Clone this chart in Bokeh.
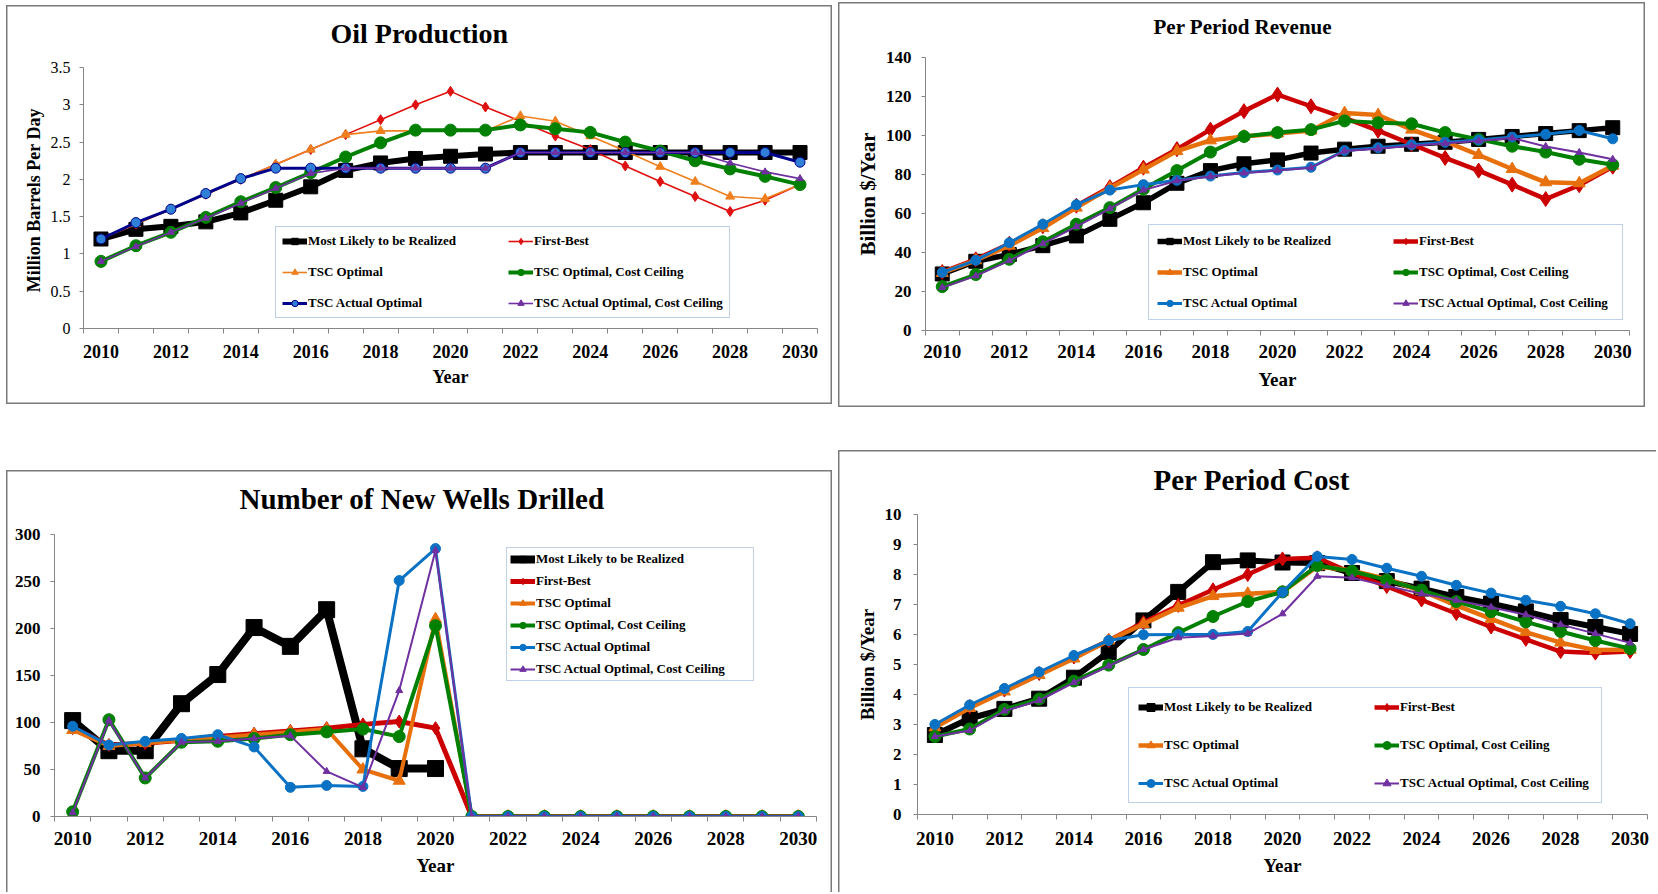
from bokeh.plotting import figure
from bokeh.models import (Range1d, FixedTicker, Legend, LegendItem, Title,
                          ColumnDataSource, CustomJSTickFormatter, Spacer)
from bokeh.layouts import row, column
from bokeh.embed import file_html
from bokeh.resources import INLINE

# ---------------- data ----------------
years = list(range(2010, 2031))
year_ticks = list(range(2010, 2031, 2))
names = ["Most Likely to be Realized", "First-Best", "TSC Optimal",
         "TSC Optimal, Cost Ceiling", "TSC Actual Optimal",
         "TSC Actual Optimal, Cost Ceiling"]

oil_ml = [1.20, 1.33, 1.37, 1.43, 1.55, 1.72, 1.90, 2.12, 2.22, 2.28, 2.31, 2.34, 2.36, 2.36, 2.36, 2.36, 2.36, 2.36, 2.36, 2.36, 2.36]
oil_fb = [1.20, 1.40, 1.60, 1.80, 2.00, 2.20, 2.40, 2.60, 2.80, 3.00, 3.18, 2.97, 2.78, 2.58, 2.40, 2.18, 1.97, 1.77, 1.57, 1.72, 1.93]
oil_tsco = [1.20, 1.40, 1.60, 1.80, 2.00, 2.20, 2.40, 2.60, 2.65, 2.65, 2.65, 2.65, 2.85, 2.78, 2.58, 2.38, 2.17, 1.97, 1.77, 1.74, 1.93]
oil_tscocc = [0.90, 1.11, 1.29, 1.49, 1.70, 1.89, 2.09, 2.30, 2.49, 2.66, 2.66, 2.66, 2.73, 2.68, 2.63, 2.50, 2.38, 2.25, 2.14, 2.04, 1.93]
oil_tscao = [1.20, 1.42, 1.60, 1.81, 2.01, 2.15, 2.15, 2.15, 2.15, 2.15, 2.15, 2.15, 2.36, 2.36, 2.36, 2.36, 2.36, 2.36, 2.36, 2.36, 2.23]
oil_tscaocc = [0.90, 1.10, 1.29, 1.48, 1.68, 1.88, 2.08, 2.15, 2.15, 2.15, 2.15, 2.15, 2.36, 2.36, 2.36, 2.36, 2.36, 2.36, 2.22, 2.10, 2.01]

rev_ml = [29.0, 35.5, 39.0, 43.5, 48.5, 57.0, 65.5, 75.5, 82.0, 85.5, 87.5, 91.0, 93.0, 94.5, 95.5, 96.5, 98.0, 99.5, 101.0, 102.5, 104.0]
rev_fb = [30.0, 36.5, 44.5, 53.5, 64.0, 73.5, 83.5, 93.0, 103.0, 112.5, 121.0, 115.0, 109.0, 102.5, 95.5, 88.5, 82.0, 74.8, 67.4, 74.5, 84.0]
rev_tsco = [29.5, 36.0, 43.5, 52.5, 63.0, 73.0, 82.5, 92.0, 97.5, 99.5, 101.0, 102.5, 111.5, 110.5, 103.0, 97.0, 90.0, 82.8, 76.0, 75.5, 84.5]
rev_tscocc = [22.5, 28.7, 36.5, 45.5, 54.5, 63.0, 72.5, 82.0, 91.5, 99.5, 101.5, 103.0, 107.5, 106.5, 106.0, 101.5, 98.0, 94.5, 91.5, 87.8, 85.0]
rev_tscao = [29.8, 36.0, 45.0, 54.5, 64.5, 72.0, 74.8, 77.0, 79.2, 81.0, 82.3, 83.7, 92.3, 93.7, 95.2, 96.5, 97.7, 99.2, 100.6, 102.6, 98.3]
rev_tscaocc = [22.0, 28.0, 35.8, 44.5, 53.3, 62.5, 72.0, 76.8, 79.0, 80.8, 82.0, 83.5, 92.0, 93.2, 94.7, 96.0, 97.2, 98.7, 94.4, 91.3, 87.8]

wells_ml = [102, 70, 70, 120, 151, 201, 181, 220, 72, 51, 51, None, None, None, None, None, None, None, None, None, None]
wells_fb = [94, 76, 78, 81, 85, 88, 91, 94, 98, 101, 94, 0, 0, 0, 0, 0, 0, 0, 0, 0, 0]
wells_tsco = [92, 75, 78, 81, 84, 87, 90, 93, 50, 38, 210, 0, 0, 0, 0, 0, 0, 0, 0, 0, 0]
wells_tscocc = [5, 103, 41, 79, 80, 83, 87, 90, 93, 85, 203, 0, 0, 0, 0, 0, 0, 0, 0, 0, 0]
wells_tscao = [96, 76, 80, 83, 87, 74, 31, 33, 32, 251, 285, 0, 0, 0, 0, 0, 0, 0, 0, 0, 0]
wells_tscaocc = [4, 102, 41, 79, 80, 83, 86, 48, 31, 134, 283, 0, 0, 0, 0, 0, 0, 0, 0, 0, 0]

cost_ml = [2.65, 3.20, 3.52, 3.86, 4.56, 5.42, 6.47, 7.42, 8.41, 8.47, 8.40, 8.38, 8.05, 7.78, 7.53, 7.25, 7.03, 6.77, 6.48, 6.25, 6.02]
cost_fb = [2.95, 3.60, 4.15, 4.70, 5.25, 5.80, 6.40, 6.97, 7.49, 8.00, 8.52, 8.56, 8.05, 7.60, 7.15, 6.70, 6.25, 5.84, 5.43, 5.38, 5.43]
cost_tsco = [2.90, 3.55, 4.10, 4.65, 5.20, 5.80, 6.35, 6.89, 7.28, 7.36, 7.42, 8.27, 8.13, 7.85, 7.45, 6.97, 6.52, 6.08, 5.73, 5.48, 5.49]
cost_tscocc = [2.60, 2.85, 3.50, 3.85, 4.45, 4.98, 5.50, 6.06, 6.60, 7.10, 7.42, 8.30, 8.11, 7.82, 7.48, 7.10, 6.76, 6.42, 6.10, 5.80, 5.53]
cost_tscao = [3.00, 3.65, 4.20, 4.75, 5.30, 5.80, 5.99, 6.00, 6.00, 6.10, 7.41, 8.60, 8.50, 8.21, 7.94, 7.64, 7.38, 7.14, 6.94, 6.69, 6.36]
cost_tscaocc = [2.60, 2.80, 3.45, 3.80, 4.40, 4.95, 5.50, 5.89, 5.95, 6.03, 6.69, 7.94, 7.89, 7.62, 7.36, 7.14, 6.91, 6.66, 6.33, 6.03, 5.72]

oil_ticks = [0, 0.5, 1, 1.5, 2, 2.5, 3, 3.5]
rev_ticks = [0, 20, 40, 60, 80, 100, 120, 140]
wells_ticks = [0, 50, 100, 150, 200, 250, 300]
cost_ticks = [0, 1, 2, 3, 4, 5, 6, 7, 8, 9, 10]

# ---------------- styling ----------------
FONT = "Liberation Serif"
AX = "#868686"
RED = "#cc0000"
ORANGE = "#e8700c"
GREEN = "#008000"
BLUE = "#0a72c4"
PURPLE = "#7030a0"
NAVY = "#00008a"

def st(c, lw, m, s, fc=None, lc=None):
    return dict(c=c, lw=lw, m=m, s=s, fc=fc or c, lc=lc or c)

oil_styles = [st("black", 6, "square", 14), st("#e01010", 1.6, "diamond", 10),
              st("#f0801e", 1.6, "triangle", 9), st(GREEN, 4, "circle", 12),
              st(NAVY, 3, "circle", 10, fc="#2f7fd6", lc=NAVY), st(PURPLE, 1.6, "triangle", 7)]
rev_styles = [st("black", 5.5, "square", 14), st(RED, 4.5, "diamond", 15),
              st(ORANGE, 4.5, "triangle", 12), st(GREEN, 4, "circle", 12),
              st(BLUE, 3, "circle", 10), st(PURPLE, 2, "triangle", 7)]
wells_styles = [st("black", 8, "square", 16), st(RED, 5, "diamond", 13),
                st(ORANGE, 4, "triangle", 12), st(GREEN, 4, "circle", 12),
                st(BLUE, 3, "circle", 10), st(PURPLE, 2, "triangle", 7)]
cost_styles = [st("black", 6, "square", 15), st(RED, 4.5, "diamond", 14),
               st(ORANGE, 4.5, "triangle", 12), st(GREEN, 4, "circle", 12),
               st(BLUE, 3, "circle", 10), st(PURPLE, 2, "triangle", 7)]


def make_fig(w, h, mbl, mbr, mbt, mbb, ymax, yticks, shadow):
    p = figure(width=w, height=h, x_range=Range1d(2009.5, 2030.5),
               y_range=Range1d(0, ymax), output_backend="svg",
               toolbar_location=None, min_border_left=mbl, min_border_right=mbr,
               min_border_top=mbt, min_border_bottom=mbb)
    p.frame_align = False
    p.grid.visible = False
    p.outline_line_color = None
    p.background_fill_color = None
    p.border_fill_color = None
    p.styles = {"box-shadow": shadow}
    xa = p.xaxis[0]
    xa.ticker = FixedTicker(ticks=year_ticks, minor_ticks=[y - 0.5 for y in years] + [years[-1] + 0.5])
    xa.major_tick_out = 0
    xa.major_tick_in = 0
    xa.minor_tick_out = 5
    xa.minor_tick_in = 0
    ya = p.yaxis[0]
    ya.ticker = FixedTicker(ticks=yticks)
    ya.formatter = CustomJSTickFormatter(code="return tick.toString()")
    ya.major_tick_out = 4
    ya.major_tick_in = 0
    ya.minor_tick_out = 0
    ya.minor_tick_in = 0
    for a in (xa, ya):
        a.axis_line_color = AX
        a.major_tick_line_color = AX
        a.minor_tick_line_color = AX
        a.major_label_text_font = FONT
        a.major_label_text_color = "black"
        a.axis_label_text_font = FONT
        a.axis_label_text_font_style = "bold"
        a.axis_label_text_color = "black"
    return p


def set_title(p, text, size, offset, standoff, gap):
    t = p.title
    t.text = text
    t.align = "left"
    t.offset = offset
    t.standoff = standoff
    t.text_font = FONT
    t.text_font_style = "bold"
    t.text_font_size = size
    t.text_color = "black"
    # thin blank title used as a gap between the title and the plot frame
    p.add_layout(Title(text=" ", text_font_size="1px", standoff=gap), "above")


def add_series(p, data, styles):
    items = []
    for ys, s, name in zip(data, styles, names):
        yv = [float("nan") if v is None else v for v in ys]
        src = ColumnDataSource(dict(x=years, y=yv))
        l = p.line("x", "y", source=src, line_color=s["c"], line_width=s["lw"],
                   line_join="round")
        m = p.scatter("x", "y", source=src, marker=s["m"], size=s["s"],
                      fill_color=s["fc"], line_color=s["lc"], line_width=1)
        items.append(LegendItem(label=name, renderers=[l, m]))
    return items


def add_legend(p, items, loc, ncols, pad, spacing, lw, lh):
    if ncols == 2:
        items = [items[i] for i in (0, 2, 4, 1, 3, 5)]
    lg = Legend(items=items, location=loc, ncols=ncols, orientation="vertical",
                padding=pad, spacing=spacing, margin=0, glyph_width=25,
                glyph_height=lh, label_standoff=1, label_width=lw, label_height=lh,
                border_line_color="#7fa3d0", border_line_width=1.3,
                background_fill_color="white", background_fill_alpha=1,
                label_text_font=FONT, label_text_font_style="bold",
                label_text_font_size="13px", label_text_color="black")
    p.add_layout(lg)

BOX = "inset 0 0 0 1.5px #7a7a7a"

# ---------------- Oil Production ----------------
p1 = make_fig(826, 399, 77, 15, 62, 76, 3.5, oil_ticks, BOX)
set_title(p1, "Oil Production", "28px", 247, 20, 5.5)
p1.xaxis.major_label_text_font_size = "18px"
p1.xaxis.major_label_text_font_style = "bold"
p1.xaxis.major_label_standoff = 11
p1.xaxis.axis_label = "Year"
p1.xaxis.axis_label_text_font_size = "18px"
p1.xaxis.axis_label_standoff = 6
p1.yaxis.major_label_text_font_size = "16px"
p1.yaxis.major_label_standoff = 9
p1.yaxis.axis_label = "Million  Barrels Per Day"
p1.yaxis.axis_label_text_font_size = "18px"
p1.yaxis.axis_label_standoff = 4
it = add_series(p1, [oil_ml, oil_fb, oil_tsco, oil_tscocc, oil_tscao, oil_tscaocc], oil_styles)
add_legend(p1, it, (192, 10), 2, 6, 15, 185, 16)

# ---------------- Per Period Revenue ----------------
p2 = make_fig(807, 405, 87, 16, 55, 77, 140, rev_ticks, BOX)
set_title(p2, "Per Period Revenue", "21px", 228, 21, 5)
p2.xaxis.major_label_text_font_size = "19px"
p2.xaxis.major_label_text_font_style = "bold"
p2.xaxis.major_label_standoff = 9
p2.xaxis.axis_label = "Year"
p2.xaxis.axis_label_text_font_size = "19px"
p2.xaxis.axis_label_standoff = 8
p2.yaxis.major_label_text_font_size = "17px"
p2.yaxis.major_label_text_font_style = "bold"
p2.yaxis.major_label_standoff = 10
p2.yaxis.axis_label = "Billion $/Year"
p2.yaxis.axis_label_text_font_size = "21px"
p2.yaxis.axis_label_standoff = 3
it = add_series(p2, [rev_ml, rev_fb, rev_tsco, rev_tscocc, rev_tscao, rev_tscaocc], rev_styles)
add_legend(p2, it, (223, 10), 2, 8, 15, 195, 16)

# ---------------- Number of New Wells Drilled ----------------
p3 = make_fig(826, 422, 48, 16, 64, 76, 300, wells_ticks,
              "inset 1.5px 1.5px 0 0 #7a7a7a, inset -1.5px 0 0 0 #7a7a7a")
set_title(p3, "Number of New Wells Drilled", "29px", 185, 20, 6.5)
p3.xaxis.major_label_text_font_size = "19px"
p3.xaxis.major_label_text_font_style = "bold"
p3.xaxis.major_label_standoff = 10
p3.xaxis.axis_label = "Year"
p3.xaxis.axis_label_text_font_size = "19px"
p3.xaxis.axis_label_standoff = 7
p3.yaxis.major_label_text_font_size = "17px"
p3.yaxis.major_label_text_font_style = "bold"
p3.yaxis.major_label_standoff = 10
it = add_series(p3, [wells_ml, wells_fb, wells_tsco, wells_tscocc, wells_tscao, wells_tscaocc], wells_styles)
add_legend(p3, it, (452, 135), 1, 3, 6, 214, 16)

# ---------------- Per Period Cost ----------------
p4 = make_fig(818, 442, 79, 9, 64, 78, 10, cost_ticks, "inset 1.5px 1.5px 0 0 #7a7a7a")
set_title(p4, "Per Period Cost", "29px", 236, 22, 4.5)
p4.xaxis.major_label_text_font_size = "19px"
p4.xaxis.major_label_text_font_style = "bold"
p4.xaxis.major_label_standoff = 12
p4.xaxis.axis_label = "Year"
p4.xaxis.axis_label_text_font_size = "19px"
p4.xaxis.axis_label_standoff = 7
p4.yaxis.major_label_text_font_size = "17px"
p4.yaxis.major_label_text_font_style = "bold"
p4.yaxis.major_label_standoff = 12
p4.yaxis.axis_label = "Billion $/Year"
p4.yaxis.axis_label_text_font_size = "19px"
p4.yaxis.axis_label_standoff = 4
it = add_series(p4, [cost_ml, cost_fb, cost_tsco, cost_tscocc, cost_tscao, cost_tscaocc], cost_styles)
add_legend(p4, it, (211, 11), 2, 9, 18, 192, 20)

left = column(Spacer(width=826, height=3), p1, Spacer(width=826, height=66), p3)
right = column(p2, Spacer(width=818, height=43), p4)
layout = column(Spacer(width=10, height=2),
                row(Spacer(width=6, height=10), left, Spacer(width=6, height=10), right))

open("out.html", "w").write(file_html(layout, INLINE))
